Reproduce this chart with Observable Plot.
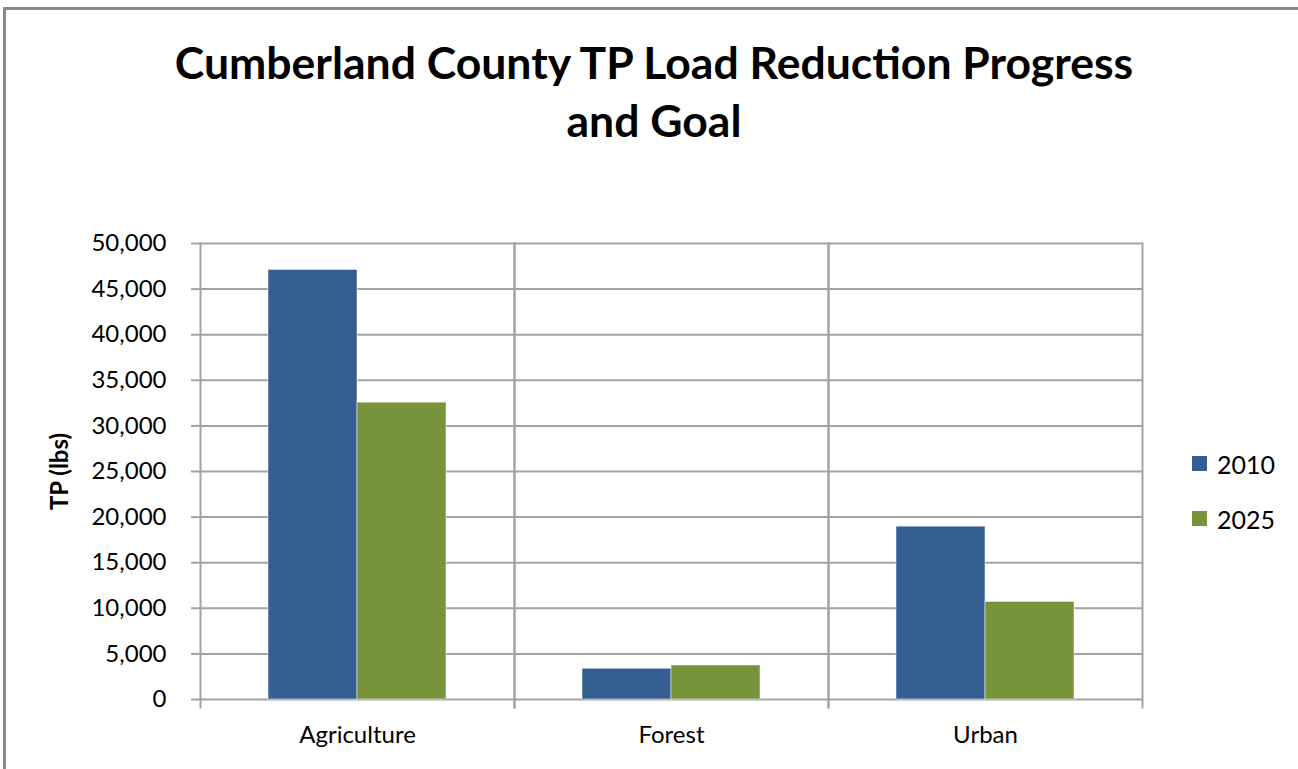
<!DOCTYPE html>
<html>
<head>
<meta charset="utf-8">
<script src="https://cdn.jsdelivr.net/npm/d3@7"></script>
<script src="https://cdn.jsdelivr.net/npm/@observablehq/plot@0.6"></script>
<style>
  html, body { margin: 0; padding: 0; background: #fff; overflow: hidden; }
  #page { width: 1298px; height: 769px; position: relative; overflow: hidden; font-family: Lato, "Open Sans", sans-serif; }
  #frameTop { position: absolute; left: 3px; top: 7px; width: 1400px; height: 3px; background: #8a8a8a; }
  #frameLeft { position: absolute; left: 3px; top: 7px; width: 3px; height: 900px; background: #8a8a8a; }
  #title { position: absolute; left: 104px; width: 1100px; top: 33px; text-align: center; font-weight: bold; font-size: 44.5px; line-height: 58px; color: #000; }
  #chart { position: absolute; left: 0; top: 150px; }
  #legend { position: absolute; left: 1192px; top: 436px; font-size: 25px; color: #000; }
  .item { display: flex; align-items: center; height: 55px; }
  .sw { width: 15px; height: 15px; margin-right: 10px; }
  #chart svg g[aria-label="y-axis label"] text { font-weight: bold; }
</style>
</head>
<body>
<div id="page">
<div id="frameTop"></div>
<div id="frameLeft"></div>
<div id="title">Cumberland County TP Load Reduction Progress<br>and Goal</div>
<div id="chart"></div>
<div id="legend"></div>
</div>
<script>
const categories = ["Agriculture", "Forest", "Urban"];
const years = ["2010", "2025"];
const values2010 = [47100, 3370, 18950];
const values2025 = [32550, 3730, 10700];
const yTicks = [0, 5000, 10000, 15000, 20000, 25000, 30000, 35000, 40000, 45000, 50000];
const colors = ["#365f91", "#77933c"];

const rows = [];
categories.forEach((c, i) => {
  rows.push({category: c, year: years[0], value: values2010[i]});
  rows.push({category: c, year: years[1], value: values2025[i]});
});

const grid = "#a3a3a3";
const plot = Plot.plot({
  width: 1298,
  height: 619,
  marginTop: 93,
  marginBottom: 70,
  marginLeft: 199,
  marginRight: 155,
  style: {fontFamily: "Lato, 'Open Sans', sans-serif", fontSize: "24px", color: "#000", background: "transparent"},
  fx: {domain: categories, paddingInner: 0, paddingOuter: 0, label: null, axis: null},
  x: {domain: years, paddingInner: 0, paddingOuter: 0.754, axis: null},
  y: {domain: [0, 50000], label: "TP (lbs)"},
  color: {domain: years, range: colors},
  marks: [
    Plot.gridY(yTicks, {stroke: grid, strokeOpacity: 1, strokeWidth: 2}),
    Plot.frame({anchor: "left", stroke: grid, strokeWidth: 2, insetBottom: -8}),
    Plot.frame({anchor: "right", stroke: grid, strokeWidth: 2, insetBottom: -8}),
    Plot.barY(rows, {fx: "category", x: "year", y: "value", fill: "year", stroke: "#ffffff", strokeOpacity: 0.5, strokeWidth: 1}),
    Plot.axisY(yTicks, {tickSize: 9, tickPadding: 25, stroke: grid, strokeWidth: 2, tickFormat: d3.format(","), fontSize: 24, label: "TP (lbs)", labelAnchor: "center", labelOffset: 150, labelArrow: "none"}),
    Plot.axisFx({anchor: "bottom", tickSize: 0, tickPadding: 26, fontSize: 24, label: null})
  ]
});
document.getElementById("chart").appendChild(plot);

const legend = document.getElementById("legend");
years.forEach((y, i) => {
  const item = document.createElement("div");
  item.className = "item";
  const sw = document.createElement("div");
  sw.className = "sw";
  sw.style.background = colors[i];
  const t = document.createElement("span");
  t.textContent = y;
  item.appendChild(sw);
  item.appendChild(t);
  legend.appendChild(item);
});
</script>
</body>
</html>
